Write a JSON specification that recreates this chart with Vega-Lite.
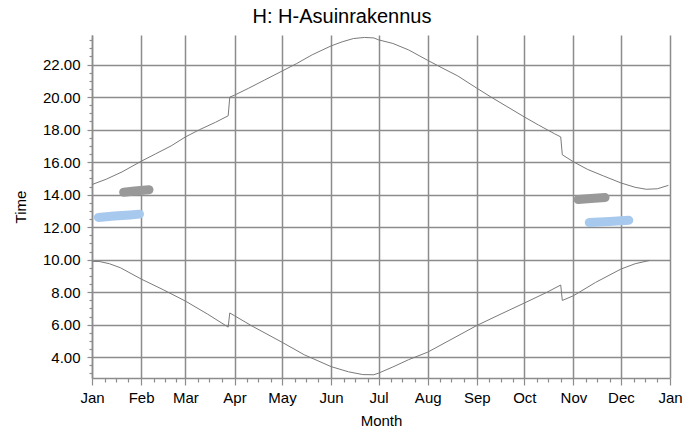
{
  "$schema": "https://vega.github.io/schema/vega-lite/v6.json",
  "autosize": {"type": "none"},
  "padding": {"left": 92, "top": 35, "right": 29, "bottom": 54},
  "width": 578,
  "height": 343,
  "background": "white",
  "title": {"text": "H: H-Asuinrakennus", "font": "Liberation Sans", "fontSize": 20, "fontWeight": "normal", "color": "#000000", "dx": -39, "offset": 6},
  "config": {
    "view": {"stroke": null},
    "axis": {
      "domainColor": "#8c8c8c", "domainWidth": 1.5,
      "tickColor": "#8c8c8c", "tickWidth": 1.2,
      "gridColor": "#8c8c8c", "gridWidth": 1.5,
      "labelFont": "Liberation Sans", "labelFontSize": 15, "labelColor": "#000000",
      "titleFont": "Liberation Sans", "titleFontSize": 15, "titleFontWeight": "normal", "titleColor": "#000000"
    }
  },
  "datasets": {
    "curves": [
      {"series": "sunset", "date": "2015/01/01", "time": 14.62},
      {"series": "sunset", "date": "2015/01/10", "time": 14.95},
      {"series": "sunset", "date": "2015/01/20", "time": 15.4},
      {"series": "sunset", "date": "2015/02/01", "time": 16.05},
      {"series": "sunset", "date": "2015/02/10", "time": 16.5},
      {"series": "sunset", "date": "2015/02/20", "time": 17.0},
      {"series": "sunset", "date": "2015/03/01", "time": 17.55},
      {"series": "sunset", "date": "2015/03/10", "time": 18.0},
      {"series": "sunset", "date": "2015/03/20", "time": 18.45},
      {"series": "sunset", "date": "2015/03/28", "time": 18.85},
      {"series": "sunset", "date": "2015/03/29", "time": 20.0},
      {"series": "sunset", "date": "2015/04/01", "time": 20.12},
      {"series": "sunset", "date": "2015/04/10", "time": 20.55},
      {"series": "sunset", "date": "2015/04/20", "time": 21.05},
      {"series": "sunset", "date": "2015/05/01", "time": 21.6},
      {"series": "sunset", "date": "2015/05/10", "time": 22.05},
      {"series": "sunset", "date": "2015/05/20", "time": 22.6},
      {"series": "sunset", "date": "2015/06/01", "time": 23.15},
      {"series": "sunset", "date": "2015/06/08", "time": 23.4},
      {"series": "sunset", "date": "2015/06/15", "time": 23.6},
      {"series": "sunset", "date": "2015/06/22", "time": 23.67},
      {"series": "sunset", "date": "2015/06/28", "time": 23.64},
      {"series": "sunset", "date": "2015/07/01", "time": 23.52},
      {"series": "sunset", "date": "2015/07/10", "time": 23.3},
      {"series": "sunset", "date": "2015/07/20", "time": 22.9},
      {"series": "sunset", "date": "2015/08/01", "time": 22.26},
      {"series": "sunset", "date": "2015/08/10", "time": 21.8},
      {"series": "sunset", "date": "2015/08/20", "time": 21.3},
      {"series": "sunset", "date": "2015/09/01", "time": 20.55},
      {"series": "sunset", "date": "2015/09/10", "time": 20.0},
      {"series": "sunset", "date": "2015/09/20", "time": 19.42},
      {"series": "sunset", "date": "2015/10/01", "time": 18.78},
      {"series": "sunset", "date": "2015/10/10", "time": 18.28},
      {"series": "sunset", "date": "2015/10/20", "time": 17.75},
      {"series": "sunset", "date": "2015/10/24", "time": 17.55},
      {"series": "sunset", "date": "2015/10/25", "time": 16.45},
      {"series": "sunset", "date": "2015/11/01", "time": 16.02},
      {"series": "sunset", "date": "2015/11/10", "time": 15.55},
      {"series": "sunset", "date": "2015/11/20", "time": 15.15},
      {"series": "sunset", "date": "2015/12/01", "time": 14.72},
      {"series": "sunset", "date": "2015/12/10", "time": 14.45},
      {"series": "sunset", "date": "2015/12/17", "time": 14.33},
      {"series": "sunset", "date": "2015/12/24", "time": 14.36},
      {"series": "sunset", "date": "2015/12/31", "time": 14.57},
      {"series": "sunrise", "date": "2015/01/01", "time": 9.9},
      {"series": "sunrise", "date": "2015/01/06", "time": 9.88},
      {"series": "sunrise", "date": "2015/01/12", "time": 9.75},
      {"series": "sunrise", "date": "2015/01/19", "time": 9.5},
      {"series": "sunrise", "date": "2015/02/01", "time": 8.81},
      {"series": "sunrise", "date": "2015/02/15", "time": 8.15},
      {"series": "sunrise", "date": "2015/03/01", "time": 7.45},
      {"series": "sunrise", "date": "2015/03/15", "time": 6.65},
      {"series": "sunrise", "date": "2015/03/28", "time": 5.85},
      {"series": "sunrise", "date": "2015/03/29", "time": 6.72},
      {"series": "sunrise", "date": "2015/04/01", "time": 6.55},
      {"series": "sunrise", "date": "2015/04/12", "time": 5.92},
      {"series": "sunrise", "date": "2015/05/01", "time": 4.92},
      {"series": "sunrise", "date": "2015/05/15", "time": 4.15},
      {"series": "sunrise", "date": "2015/06/01", "time": 3.42},
      {"series": "sunrise", "date": "2015/06/12", "time": 3.1},
      {"series": "sunrise", "date": "2015/06/21", "time": 2.93},
      {"series": "sunrise", "date": "2015/06/28", "time": 2.92},
      {"series": "sunrise", "date": "2015/07/01", "time": 3.02},
      {"series": "sunrise", "date": "2015/07/10", "time": 3.4},
      {"series": "sunrise", "date": "2015/07/20", "time": 3.85},
      {"series": "sunrise", "date": "2015/08/01", "time": 4.31},
      {"series": "sunrise", "date": "2015/08/15", "time": 5.05},
      {"series": "sunrise", "date": "2015/09/01", "time": 5.95},
      {"series": "sunrise", "date": "2015/09/15", "time": 6.6},
      {"series": "sunrise", "date": "2015/10/01", "time": 7.33},
      {"series": "sunrise", "date": "2015/10/15", "time": 7.98},
      {"series": "sunrise", "date": "2015/10/24", "time": 8.44},
      {"series": "sunrise", "date": "2015/10/25", "time": 7.49},
      {"series": "sunrise", "date": "2015/11/01", "time": 7.78},
      {"series": "sunrise", "date": "2015/11/15", "time": 8.6},
      {"series": "sunrise", "date": "2015/12/01", "time": 9.42},
      {"series": "sunrise", "date": "2015/12/10", "time": 9.75},
      {"series": "sunrise", "date": "2015/12/19", "time": 9.95}
    ],
    "blobs": [
      {"blob": "g1", "kind": "gray", "date": "2015/01/21", "time": 14.15},
      {"blob": "g1", "kind": "gray", "date": "2015/01/28", "time": 14.22},
      {"blob": "g1", "kind": "gray", "date": "2015/02/06", "time": 14.3},
      {"blob": "b1", "kind": "blue", "date": "2015/01/05", "time": 12.6},
      {"blob": "b1", "kind": "blue", "date": "2015/01/15", "time": 12.68},
      {"blob": "b1", "kind": "blue", "date": "2015/01/25", "time": 12.75},
      {"blob": "b1", "kind": "blue", "date": "2015/01/31", "time": 12.8},
      {"blob": "g2", "kind": "gray", "date": "2015/11/04", "time": 13.7},
      {"blob": "g2", "kind": "gray", "date": "2015/11/12", "time": 13.76},
      {"blob": "g2", "kind": "gray", "date": "2015/11/21", "time": 13.82},
      {"blob": "b2", "kind": "blue", "date": "2015/11/11", "time": 12.28},
      {"blob": "b2", "kind": "blue", "date": "2015/11/24", "time": 12.35},
      {"blob": "b2", "kind": "blue", "date": "2015/12/06", "time": 12.42}
    ]
  },
  "encoding": {
    "x": {
      "field": "date", "type": "temporal", "title": "Month",
      "scale": {"domain": [{"year": 2015, "month": 1, "date": 1}, {"year": 2016, "month": 1, "date": 1}], "nice": false},
      "axis": {
        "values": [
          {"year": 2015, "month": 1, "date": 1}, {"year": 2015, "month": 1, "date": 9}, {"year": 2015, "month": 1, "date": 16}, {"year": 2015, "month": 1, "date": 24},
          {"year": 2015, "month": 2, "date": 1}, {"year": 2015, "month": 2, "date": 9}, {"year": 2015, "month": 2, "date": 16}, {"year": 2015, "month": 2, "date": 23},
          {"year": 2015, "month": 3, "date": 1}, {"year": 2015, "month": 3, "date": 9}, {"year": 2015, "month": 3, "date": 16}, {"year": 2015, "month": 3, "date": 24},
          {"year": 2015, "month": 4, "date": 1}, {"year": 2015, "month": 4, "date": 9}, {"year": 2015, "month": 4, "date": 16}, {"year": 2015, "month": 4, "date": 24},
          {"year": 2015, "month": 5, "date": 1}, {"year": 2015, "month": 5, "date": 9}, {"year": 2015, "month": 5, "date": 16}, {"year": 2015, "month": 5, "date": 24},
          {"year": 2015, "month": 6, "date": 1}, {"year": 2015, "month": 6, "date": 9}, {"year": 2015, "month": 6, "date": 16}, {"year": 2015, "month": 6, "date": 24},
          {"year": 2015, "month": 7, "date": 1}, {"year": 2015, "month": 7, "date": 9}, {"year": 2015, "month": 7, "date": 16}, {"year": 2015, "month": 7, "date": 24},
          {"year": 2015, "month": 8, "date": 1}, {"year": 2015, "month": 8, "date": 9}, {"year": 2015, "month": 8, "date": 16}, {"year": 2015, "month": 8, "date": 24},
          {"year": 2015, "month": 9, "date": 1}, {"year": 2015, "month": 9, "date": 9}, {"year": 2015, "month": 9, "date": 16}, {"year": 2015, "month": 9, "date": 24},
          {"year": 2015, "month": 10, "date": 1}, {"year": 2015, "month": 10, "date": 9}, {"year": 2015, "month": 10, "date": 16}, {"year": 2015, "month": 10, "date": 24},
          {"year": 2015, "month": 11, "date": 1}, {"year": 2015, "month": 11, "date": 9}, {"year": 2015, "month": 11, "date": 16}, {"year": 2015, "month": 11, "date": 24},
          {"year": 2015, "month": 12, "date": 1}, {"year": 2015, "month": 12, "date": 9}, {"year": 2015, "month": 12, "date": 16}, {"year": 2015, "month": 12, "date": 24},
          {"year": 2016, "month": 1, "date": 1}
        ],
        "labelExpr": "date(datum.value) === 1 ? timeFormat(datum.value, '%b') : ''",
        "labelOverlap": false,
        "labelFlush": false,
        "labelPadding": 5,
        "tickSize": {"condition": {"test": "date(datum.value) === 1", "value": 7}, "value": 4},
        "grid": true,
        "gridOpacity": {"condition": {"test": "date(datum.value) === 1", "value": 1}, "value": 0},
        "titlePadding": 8
      }
    },
    "y": {
      "field": "time", "type": "quantitative", "title": "Time",
      "scale": {"domain": [2.72, 23.82], "nice": false, "zero": false},
      "axis": {
        "values": [3, 3.5, 4, 4.5, 5, 5.5, 6, 6.5, 7, 7.5, 8, 8.5, 9, 9.5, 10, 10.5, 11, 11.5, 12, 12.5, 13, 13.5, 14, 14.5, 15, 15.5, 16, 16.5, 17, 17.5, 18, 18.5, 19, 19.5, 20, 20.5, 21, 21.5, 22, 22.5, 23, 23.5],
        "labelExpr": "(round(datum.value * 2) % 4 == 0) ? format(datum.value, '.2f') : ''",
        "labelOverlap": false,
        "labelFlush": false,
        "labelPadding": 7,
        "tickSize": {"condition": {"test": "round(datum.value * 2) % 4 == 0", "value": 5}, "value": 3},
        "grid": true,
        "gridOpacity": {"condition": {"test": "round(datum.value * 2) % 4 == 0", "value": 1}, "value": 0},
        "titleX": -67,
        "titleY": 171.5,
        "titleAngle": -90,
        "titleAlign": "center",
        "titleBaseline": "alphabetic"
      }
    }
  },
  "layer": [
    {
      "data": {"name": "curves"},
      "mark": {"type": "line", "color": "#7a7a7a", "strokeWidth": 1},
      "encoding": {
        "detail": {"field": "series"}
      }
    },
    {
      "data": {"name": "blobs"},
      "mark": {"type": "line", "strokeWidth": 9, "strokeCap": "round", "strokeJoin": "round"},
      "encoding": {
        "color": {"field": "kind", "type": "nominal", "scale": {"domain": ["gray", "blue"], "range": ["#999999", "#a8c9ee"]}, "legend": null},
        "detail": {"field": "blob"}
      }
    }
  ]
}
